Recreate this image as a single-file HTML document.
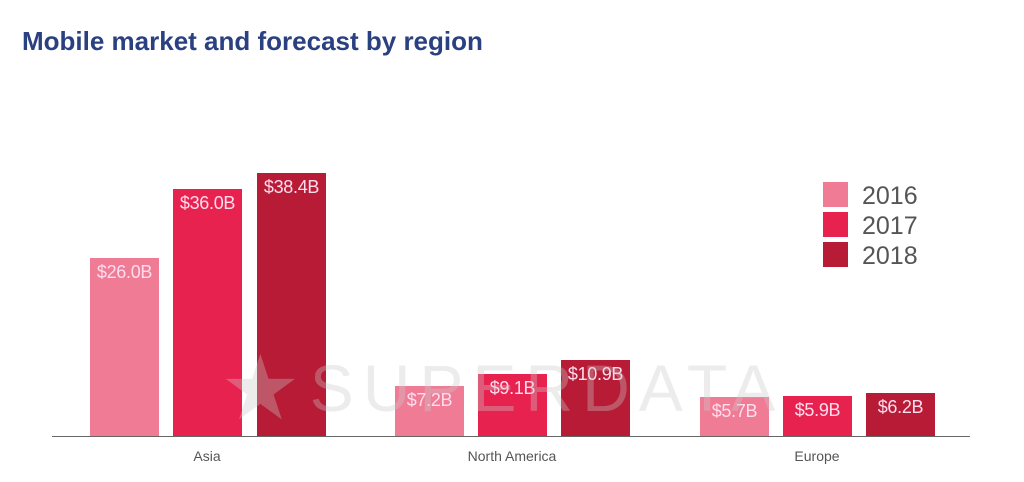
<!DOCTYPE html><html><head><style>
body{margin:0;width:1024px;height:482px;background:#fff;font-family:"Liberation Sans",sans-serif;position:relative;overflow:hidden}
.t{position:absolute;left:22px;top:26px;font-size:26px;font-weight:bold;color:#2a4080}
.b{position:absolute;width:69px;color:#fde;font-size:18px;text-align:center;padding-top:4px;box-sizing:border-box;letter-spacing:-0.3px}
.a{background:#f07b95}.c{background:#e8224f}.d{background:#b71b35}
.ax{position:absolute;left:52px;top:436px;width:918px;height:1px;background:#666}
.l{position:absolute;font-size:14px;color:#555;top:448px;transform:translateX(-50%)}
.lg{position:absolute;left:823px;width:25px;height:25px}
.lt{position:absolute;left:862px;font-size:25px;color:#555;line-height:25px}
.wm{position:absolute;left:220px;top:336px;font-size:66px;letter-spacing:9px;color:rgba(200,200,200,.35);white-space:nowrap}
</style></head><body>
<div class="t">Mobile market and forecast by region</div>
<div class="b a" style="left:90px;top:258px;height:178px">$26.0B</div>
<div class="b c" style="left:173px;top:189px;height:247px">$36.0B</div>
<div class="b d" style="left:257px;top:173px;height:263px">$38.4B</div>
<div class="b a" style="left:395px;top:386px;height:50px">$7.2B</div>
<div class="b c" style="left:478px;top:374px;height:62px">$9.1B</div>
<div class="b d" style="left:561px;top:360px;height:76px">$10.9B</div>
<div class="b a" style="left:700px;top:397px;height:39px">$5.7B</div>
<div class="b c" style="left:783px;top:396px;height:40px">$5.9B</div>
<div class="b d" style="left:866px;top:393px;height:43px">$6.2B</div>
<div class="wm"><span style="font-size:90px;vertical-align:-8px">★</span>SUPERDATA</div>
<div class="ax"></div>
<div class="l" style="left:207px">Asia</div>
<div class="l" style="left:512px">North America</div>
<div class="l" style="left:817px">Europe</div>
<div class="lg a" style="top:182px"></div><div class="lt" style="top:184px">2016</div>
<div class="lg c" style="top:212px"></div><div class="lt" style="top:214px">2017</div>
<div class="lg d" style="top:242px"></div><div class="lt" style="top:244px">2018</div>
</body></html>
